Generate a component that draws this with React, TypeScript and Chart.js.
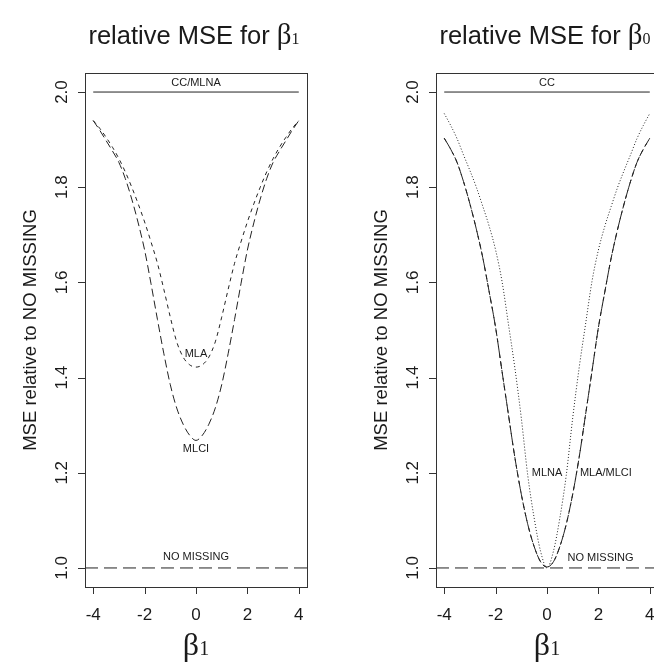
import React, { useEffect, useRef } from "react";
import { Chart, registerables } from "chart.js";

Chart.register(...registerables);

// ---------- data ----------
const X_MIN = -4.32;
const X_MAX = 4.32;
const Y_MIN = 0.96;
const Y_MAX = 2.04;

const beta = [
  -4, -3.75, -3.5, -3.25, -3, -2.75, -2.5, -2.25, -2, -1.75, -1.5, -1.25, -1, -0.75, -0.5, -0.25, 0,
  0.25, 0.5, 0.75, 1, 1.25, 1.5, 1.75, 2, 2.25, 2.5, 2.75, 3, 3.25, 3.5, 3.75, 4,
];

// left panel: relative MSE for beta1
const leftMLA = [
  1.94, 1.924, 1.905, 1.884, 1.86, 1.832, 1.8, 1.765, 1.727, 1.685, 1.64, 1.585, 1.527, 1.475, 1.443, 1.427, 1.422,
  1.427, 1.443, 1.475, 1.527, 1.585, 1.64, 1.685, 1.727, 1.765, 1.8, 1.832, 1.86, 1.884, 1.905, 1.924, 1.94,
];
const leftMLCI = [
  1.94, 1.92, 1.898, 1.876, 1.852, 1.818, 1.775, 1.725, 1.668, 1.597, 1.522, 1.45, 1.385, 1.336, 1.302, 1.279, 1.268,
  1.279, 1.302, 1.336, 1.385, 1.45, 1.522, 1.597, 1.668, 1.725, 1.775, 1.818, 1.852, 1.876, 1.898, 1.92, 1.94,
];

// right panel: relative MSE for beta0
const rightMLNA = [
  1.955, 1.93, 1.902, 1.868, 1.835, 1.8, 1.76, 1.718, 1.668, 1.602, 1.512, 1.42, 1.315, 1.195, 1.105, 1.035, 1.0,
  1.035, 1.105, 1.195, 1.315, 1.42, 1.512, 1.602, 1.668, 1.718, 1.76, 1.8, 1.835, 1.868, 1.902, 1.93, 1.955,
];
const rightMLA = [
  1.903, 1.88, 1.852, 1.812, 1.765, 1.712, 1.652, 1.58, 1.505, 1.413, 1.322, 1.232, 1.155, 1.092, 1.045, 1.013, 1.002,
  1.013, 1.045, 1.092, 1.155, 1.232, 1.322, 1.413, 1.505, 1.58, 1.652, 1.712, 1.765, 1.812, 1.852, 1.88, 1.903,
];
const rightMLCI = [
  1.903, 1.88, 1.852, 1.812, 1.765, 1.712, 1.652, 1.58, 1.505, 1.413, 1.322, 1.232, 1.155, 1.092, 1.045, 1.013, 1.002,
  1.013, 1.045, 1.092, 1.155, 1.232, 1.322, 1.413, 1.505, 1.58, 1.652, 1.712, 1.765, 1.812, 1.852, 1.88, 1.903,
];

const ccLineX = [-4, 4];
const ccLineY = [2.0, 2.0];
const noMissingX = [X_MIN, X_MAX];
const noMissingY = [1.0, 1.0];

const xTicks = [-4, -2, 0, 2, 4];
const yTicks = [1.0, 1.2, 1.4, 1.6, 1.8, 2.0];

const SANS = '"Liberation Sans", Arial, Helvetica, sans-serif';
const SERIF = '"Liberation Serif", "Times New Roman", serif';
const INK = "#1a1a1a";

type Ann = { text: string; x: number; y: number; align: CanvasTextAlign };

function pts(xs: number[], ys: number[]) {
  return xs.map((x, i) => ({ x, y: ys[i] }));
}

function drawParts(
  ctx: CanvasRenderingContext2D,
  parts: { t: string; font: string }[],
  cx: number,
  baseline: number
) {
  let total = 0;
  const widths = parts.map((p) => {
    ctx.font = p.font;
    const w = ctx.measureText(p.t).width;
    total += w;
    return w;
  });
  let x = cx - total / 2;
  ctx.textAlign = "left";
  ctx.textBaseline = "alphabetic";
  parts.forEach((p, i) => {
    ctx.font = p.font;
    ctx.fillText(p.t, x, baseline);
    x += widths[i];
  });
}

const framePlugin = {
  id: "frame",
  afterDraw(chart: any, _args: any, opts: any) {
    const { ctx, chartArea: a, scales } = chart;
    const xs = scales.x;
    const ys = scales.y;
    ctx.save();
    ctx.strokeStyle = "#333";
    ctx.lineWidth = 1;
    ctx.strokeRect(Math.round(a.left) + 0.5, Math.round(a.top) + 0.5, Math.round(a.right - a.left), Math.round(a.bottom - a.top));
    ctx.beginPath();
    xTicks.forEach((t) => {
      const px = Math.round(xs.getPixelForValue(t)) + 0.5;
      ctx.moveTo(px, a.bottom);
      ctx.lineTo(px, a.bottom + 7);
    });
    yTicks.forEach((t) => {
      const py = Math.round(ys.getPixelForValue(t)) + 0.5;
      ctx.moveTo(a.left, py);
      ctx.lineTo(a.left - 7, py);
    });
    ctx.stroke();

    ctx.fillStyle = INK;
    ctx.font = `17px ${SANS}`;
    ctx.textAlign = "center";
    ctx.textBaseline = "middle";
    xTicks.forEach((t) => {
      ctx.fillText(String(t), xs.getPixelForValue(t), a.bottom + 28);
    });
    yTicks.forEach((t) => {
      ctx.save();
      ctx.translate(a.left - 23, ys.getPixelForValue(t));
      ctx.rotate(-Math.PI / 2);
      ctx.fillText(t.toFixed(1), 0, 0);
      ctx.restore();
    });

    // y axis title
    ctx.save();
    ctx.translate(a.left - 54, (a.top + a.bottom) / 2);
    ctx.rotate(-Math.PI / 2);
    ctx.font = `18.5px ${SANS}`;
    ctx.fillText("MSE relative to NO MISSING", 0, 0);
    ctx.restore();

    const cx = (a.left + a.right) / 2;
    // main title
    drawParts(
      ctx,
      [
        { t: "relative MSE for ", font: `25.5px ${SANS}` },
        { t: "β", font: `29px ${SERIF}` },
        { t: opts.sub, font: `16px ${SERIF}` },
      ],
      cx - 2,
      44
    );
    // x axis title
    drawParts(
      ctx,
      [
        { t: "β", font: `32px ${SERIF}` },
        { t: "1", font: `20px ${SERIF}` },
      ],
      cx,
      655
    );

    // annotations
    ctx.font = `11px ${SANS}`;
    ctx.textBaseline = "middle";
    (opts.annotations as Ann[]).forEach((an) => {
      ctx.textAlign = an.align;
      ctx.fillText(an.text, xs.getPixelForValue(an.x), ys.getPixelForValue(an.y));
    });
    ctx.restore();
  },
};

function line(data: { x: number; y: number }[], dash: number[], width = 1) {
  return {
    data,
    borderColor: "#222",
    borderWidth: width,
    borderDash: dash,
    pointRadius: 0,
    fill: false,
    cubicInterpolationMode: "monotone" as const,
  };
}

function makeConfig(datasets: any[], sub: string, annotations: Ann[]) {
  return {
    type: "line" as const,
    data: { datasets },
    options: {
      responsive: false,
      animation: false as const,
      layout: { padding: { left: 85, right: 43, top: 73, bottom: 83 } },
      plugins: {
        legend: { display: false },
        tooltip: { enabled: false },
        frame: { sub, annotations },
      },
      scales: {
        x: { type: "linear" as const, min: X_MIN, max: X_MAX, display: false },
        y: { type: "linear" as const, min: Y_MIN, max: Y_MAX, display: false },
      },
    },
    plugins: [framePlugin],
  };
}

function Panel({ config, left }: { config: any; left: number }) {
  const ref = useRef<HTMLCanvasElement | null>(null);
  useEffect(() => {
    if (!ref.current) return;
    const chart = new Chart(ref.current, config);
    return () => chart.destroy();
  }, [config]);
  return (
    <canvas
      ref={ref}
      width={350}
      height={670}
      style={{ position: "absolute", left, top: 0, width: 350, height: 670 }}
    />
  );
}

const leftConfig = makeConfig(
  [
    line(pts(ccLineX, ccLineY), []),
    line(pts(beta, leftMLA), [4, 4]),
    line(pts(beta, leftMLCI), [8, 4]),
    line(pts(noMissingX, noMissingY), [13, 6]),
  ],
  "1",
  [
    { text: "CC/MLNA", x: 0, y: 2.02, align: "center" },
    { text: "MLA", x: 0, y: 1.45, align: "center" },
    { text: "MLCI", x: 0, y: 1.25, align: "center" },
    { text: "NO MISSING", x: 0, y: 1.023, align: "center" },
  ]
);

const rightConfig = makeConfig(
  [
    line(pts(ccLineX, ccLineY), []),
    line(pts(beta, rightMLNA), [1, 2]),
    line(pts(beta, rightMLA), [4, 4]),
    line(pts(beta, rightMLCI), [8, 3]),
    line(pts(noMissingX, noMissingY), [13, 6]),
  ],
  "0",
  [
    { text: "CC", x: 0, y: 2.02, align: "center" },
    { text: "MLNA", x: 0, y: 1.2, align: "center" },
    { text: "MLA/MLCI", x: 1.28, y: 1.2, align: "left" },
    { text: "NO MISSING", x: 0.8, y: 1.022, align: "left" },
  ]
);

export default function App() {
  return (
    <div
      style={{
        position: "absolute",
        left: 0,
        top: 0,
        width: 654,
        height: 670,
        overflow: "hidden",
        background: "#fff",
      }}
    >
      <Panel config={leftConfig} left={0} />
      <Panel config={rightConfig} left={351} />
    </div>
  );
}
